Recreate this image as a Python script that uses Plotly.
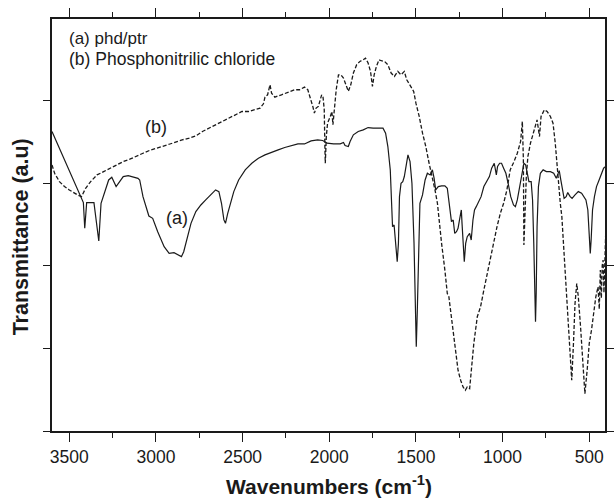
import plotly.graph_objects as go

# ---- curve (a): phd/ptr (solid) ----
a_wn = [3600, 3528, 3472, 3434, 3419, 3411, 3400, 3358, 3330, 3317, 3273, 3255, 3230, 3189, 3160,
        3104, 3094, 3075, 3041, 3019, 2990, 2953, 2924, 2896, 2868, 2853, 2840, 2827, 2798, 2770,
        2741, 2713, 2684, 2656, 2637, 2622, 2608, 2599, 2586, 2570, 2551, 2523, 2485, 2447, 2409,
        2371, 2342, 2295, 2257, 2219, 2181, 2143, 2105, 2067, 2038, 2019, 2013, 1975, 1937, 1918,
        1909, 1890, 1880, 1861, 1833, 1804, 1776, 1747, 1719, 1690, 1675, 1662, 1648, 1641, 1635,
        1626, 1618, 1608, 1601, 1595, 1586, 1576, 1567, 1557, 1546, 1534, 1523, 1511, 1504, 1498,
        1492, 1485, 1477, 1462, 1447, 1434, 1418, 1405, 1395, 1386, 1371, 1352, 1333, 1319, 1306,
        1295, 1285, 1276, 1266, 1257, 1247, 1238, 1234, 1226, 1221, 1213, 1204, 1190, 1181, 1171,
        1162, 1152, 1139, 1124, 1108, 1089, 1076, 1063, 1048, 1036, 1029, 1017, 1006, 994, 981,
        968, 953, 937, 926, 915, 899, 886, 877, 867, 858, 848, 835, 827, 820, 814,
        810, 806, 801, 793, 782, 766, 747, 724, 705, 690, 681, 673, 664, 652, 645,
        633, 624, 610, 599, 582, 563, 544, 531, 519, 508, 500, 494, 489, 481, 470,
        458, 443, 430, 417, 405]
a_t = [3.467, 3.209, 2.996, 2.859, 2.820, 2.586, 2.820, 2.820, 2.470, 2.814, 3.026, 3.051, 2.966, 3.057, 3.066,
       3.041, 3.026, 2.874, 2.698, 2.677, 2.555, 2.419, 2.358, 2.364, 2.337, 2.328, 2.373, 2.449, 2.631, 2.738,
       2.798, 2.844, 2.890, 2.935, 2.920, 2.814, 2.662, 2.631, 2.722, 2.814, 2.920, 3.026, 3.118, 3.178, 3.224,
       3.254, 3.269, 3.300, 3.321, 3.336, 3.354, 3.354, 3.382, 3.391, 3.385, 3.367, 3.361, 3.354, 3.354, 3.367,
       3.339, 3.330, 3.376, 3.437, 3.467, 3.482, 3.503, 3.497, 3.497, 3.497, 3.452, 3.330, 3.117, 2.874, 2.601,
       2.616, 2.449, 2.282, 2.449, 2.874, 2.996, 3.011, 3.057, 3.163, 3.254, 3.193, 2.996, 2.449, 1.841, 1.507,
       1.841, 2.449, 2.814, 2.890, 3.026, 3.087, 3.072, 3.118, 3.041, 2.935, 2.966, 2.972, 2.972, 2.950, 2.798,
       2.647, 2.662, 2.540, 2.555, 2.586, 2.677, 2.753, 2.631, 2.388, 2.282, 2.449, 2.510, 2.540, 2.479, 2.662,
       2.753, 2.783, 2.829, 2.874, 2.966, 3.026, 3.057, 3.133, 3.178, 3.072, 3.148, 3.178, 3.178, 3.133, 3.087,
       2.996, 2.874, 2.798, 2.783, 2.844, 2.996, 3.133, 3.178, 3.163, 3.087, 3.011, 3.011, 2.844, 2.449, 1.993,
       1.735, 1.993, 2.601, 2.966, 3.087, 3.118, 3.102, 3.102, 3.087, 3.041, 3.072, 3.111, 3.026, 2.935, 2.859,
       2.874, 2.911, 2.874, 2.859, 2.890, 2.920, 2.905, 2.874, 2.844, 2.753, 2.510, 2.358, 2.479, 2.753, 2.874,
       2.966, 3.026, 3.087, 3.133, 3.148]

# ---- curve (b): Phosphonitrilic chloride (dashed) ----
b_wn = [3600, 3585, 3557, 3528, 3500, 3472, 3453, 3430, 3406, 3377, 3340, 3302, 3264, 3226, 3189,
        3151, 3113, 3075, 3038, 3000, 2962, 2924, 2887, 2849, 2808, 2770, 2732, 2694, 2656, 2618,
        2580, 2542, 2504, 2466, 2428, 2399, 2380, 2371, 2356, 2342, 2333, 2314, 2276, 2238, 2200,
        2171, 2143, 2124, 2108, 2095, 2086, 2076, 2063, 2051, 2044, 2036, 2029, 2025, 2023, 2017,
        2010, 1994, 1985, 1979, 1972, 1960, 1947, 1933, 1918, 1903, 1890, 1876, 1861, 1842, 1823,
        1804, 1791, 1776, 1762, 1751, 1741, 1728, 1713, 1700, 1681, 1662, 1643, 1624, 1605, 1586,
        1567, 1553, 1529, 1513, 1500, 1481, 1462, 1443, 1424, 1405, 1390, 1376, 1367, 1352, 1333,
        1319, 1310, 1295, 1281, 1268, 1257, 1242, 1228, 1215, 1204, 1190, 1181, 1166, 1146, 1127,
        1108, 1089, 1070, 1051, 1032, 1013, 994, 975, 956, 934, 915, 896, 886, 880, 877,
        863, 854, 839, 823, 810, 801, 787, 778, 759, 743, 724, 709, 696, 686, 677,
        667, 658, 648, 637, 624, 614, 601, 591, 582, 572, 563, 550, 538, 525, 512,
        500, 487, 474, 462, 449, 442, 436, 430, 425, 420, 415, 410, 405]
b_t = [3.163, 3.087, 3.011, 2.966, 2.935, 2.905, 2.890, 2.874, 2.950, 3.011, 3.072, 3.102, 3.133, 3.163, 3.193,
       3.215, 3.239, 3.269, 3.294, 3.315, 3.336, 3.351, 3.370, 3.391, 3.406, 3.427, 3.467, 3.497, 3.528, 3.558,
       3.588, 3.619, 3.649, 3.649, 3.664, 3.680, 3.719, 3.780, 3.801, 3.892, 3.816, 3.780, 3.801, 3.822, 3.847,
       3.847, 3.871, 3.847, 3.771, 3.695, 3.634, 3.680, 3.695, 3.771, 3.801, 3.780, 3.664, 3.300, 3.178, 3.421,
       3.543, 3.604, 3.649, 3.528, 3.664, 3.847, 3.983, 3.983, 3.953, 3.877, 3.832, 3.892, 3.999, 4.075, 4.105,
       4.120, 4.135, 4.090, 4.014, 3.877, 3.983, 4.059, 4.120, 4.111, 4.105, 4.075, 3.999, 3.968, 4.014, 3.983,
       4.014, 3.938, 3.877, 3.832, 3.725, 3.604, 3.452, 3.330, 3.178, 3.057, 2.935, 2.814, 2.662, 2.449, 2.206,
       1.993, 1.963, 1.781, 1.598, 1.446, 1.294, 1.203, 1.142, 1.112, 1.142, 1.127, 1.294, 1.537, 1.781, 1.872,
       2.024, 2.175, 2.327, 2.479, 2.601, 2.722, 2.814, 2.935, 3.118, 3.193, 3.269, 3.376, 3.558, 3.209, 2.434,
       3.057, 3.239, 3.361, 3.452, 3.528, 3.573, 3.421, 3.604, 3.664, 3.649, 3.604, 3.543, 3.361, 3.148, 2.935,
       2.814, 2.692, 2.449, 2.145, 1.841, 1.537, 1.203, 1.537, 1.902, 2.084, 1.963, 1.689, 1.385, 1.081, 1.294,
       1.537, 1.659, 1.841, 1.963, 2.054, 1.850, 2.206, 1.950, 2.250, 2.297, 2.000, 2.450, 2.540]

x_ticks = [3500, 3000, 2500, 2000, 1500, 1000, 500]
legend_lines = ["(a) phd/ptr", "(b) Phosphonitrilic chloride"]
curve_labels = ["(a)", "(b)"]

FONT = "Arial, Liberation Sans, sans-serif"
INK = "#1a1a1a"

fig = go.Figure()
fig.add_trace(go.Scatter(x=a_wn, y=a_t, mode="lines", name="(a)",
                         line=dict(color=INK, width=1.2)))
fig.add_trace(go.Scatter(x=b_wn, y=b_t, mode="lines", name="(b)",
                         line=dict(color=INK, width=1.3, dash="4px,2px")))

fig.update_layout(
    width=615, height=498,
    margin=dict(l=52, r=1, t=19, b=67),
    paper_bgcolor="white", plot_bgcolor="white",
    showlegend=False,
    font=dict(family=FONT, color=INK),
)
fig.update_xaxes(
    range=[3600, 409], tickvals=x_ticks, ticktext=[str(v) for v in x_ticks],
    ticks="outside", ticklen=9, tickwidth=1.2, tickcolor=INK,
    minor=dict(ticks="outside", ticklen=5, tickwidth=1.2, tickcolor=INK, dtick=250, tick0=0),
    showline=True, linecolor=INK, linewidth=1.5, mirror="ticks",
    showgrid=False, zeroline=False,
    tickfont=dict(size=17.5, family=FONT, color=INK),
)
fig.update_yaxes(
    range=[0.741, 4.491], tick0=0.741, dtick=0.752,
    ticks="outside", ticklen=7, tickwidth=1.2, tickcolor=INK,
    showticklabels=False,
    showline=True, linecolor=INK, linewidth=1.5, mirror="ticks",
    showgrid=False, zeroline=False,
)

ann = [
    dict(text=legend_lines[0], x=0.0274, y=0.953, xanchor="left", yanchor="middle",
         font=dict(size=17)),
    dict(text=legend_lines[1], x=0.0274, y=0.902, xanchor="left", yanchor="middle",
         font=dict(size=17.5)),
    dict(text=curve_labels[1], x=0.1873, y=0.737, xanchor="center", yanchor="middle",
         font=dict(size=18)),
    dict(text=curve_labels[0], x=0.2265, y=0.516, xanchor="center", yanchor="middle",
         font=dict(size=18)),
    dict(text="<b>Wavenumbers (cm<sup>-1</sup>)</b>", x=0.5, y=-0.132, xanchor="center",
         yanchor="middle", font=dict(size=21)),
    dict(text="<b>Transmittance (a.u)</b>", x=0, xshift=-31, y=0.47, xanchor="center",
         yanchor="middle", textangle=-90, font=dict(size=21.5)),
]
for a in ann:
    a.update(xref="paper", yref="paper", showarrow=False)
    a["font"].update(family=FONT, color=INK)
fig.update_layout(annotations=ann)

fig.write_html("out.html")
